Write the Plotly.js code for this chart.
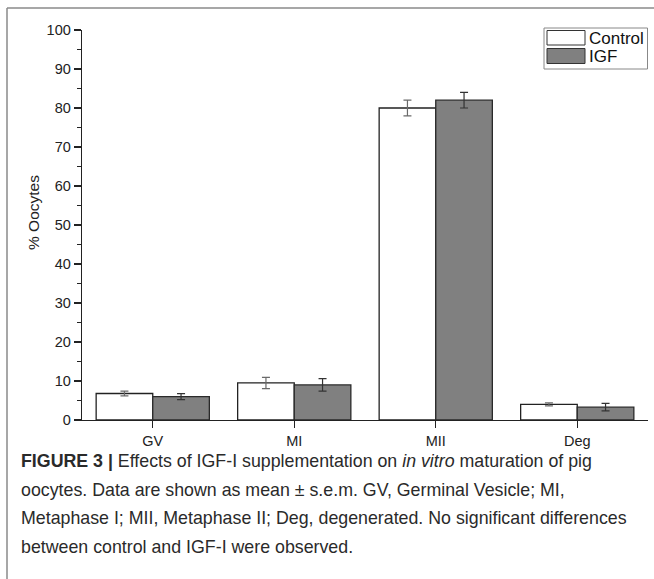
<!DOCTYPE html>
<html>
<head>
<meta charset="utf-8">
<script src="https://cdn.plot.ly/plotly-3.0.1.min.js"></script>
<style>
html,body{margin:0;padding:0;background:#fff;}
#chart{width:654px;height:579px;}
</style>
</head>
<body>
<div id="chart"></div>
<script>
const categories = ["GV", "MI", "MII", "Deg"];
const controlValues = [6.8, 9.5, 80.0, 4.0];
const controlErrors = [0.6, 1.45, 2.0, 0.4];
const igfValues = [6.0, 9.0, 82.0, 3.3];
const igfErrors = [0.75, 1.6, 2.0, 0.95];
const seriesNames = ["Control", "IGF"];
const yTickValues = [0, 10, 20, 30, 40, 50, 60, 70, 80, 90, 100];
const captionLines = [
  "<b>FIGURE 3 |</b> Effects of IGF-I supplementation on <i>in vitro</i> maturation of pig",
  "oocytes. Data are shown as mean \u00b1 s.e.m. GV, Germinal Vesicle; MI,",
  "Metaphase I; MII, Metaphase II; Deg, degenerated. No significant differences",
  "between control and IGF-I were observed."
];

const FONT = "Liberation Sans, Arial, Helvetica, sans-serif";

const traces = [
  {
    type: "bar", name: seriesNames[0], x: categories, y: controlValues,
    marker: {color: "#ffffff", line: {color: "#222222", width: 1.3}},
    error_y: {type: "data", array: controlErrors, visible: true, color: "#6a6a6a", thickness: 1.2, width: 4},
    showlegend: false, hoverinfo: "x+y"
  },
  {
    type: "bar", name: seriesNames[1], x: categories, y: igfValues,
    marker: {color: "#808080", line: {color: "#2a2a2a", width: 1.3}},
    error_y: {type: "data", array: igfErrors, visible: true, color: "#333333", thickness: 1.2, width: 4},
    showlegend: false, hoverinfo: "x+y"
  }
];

// pixel helpers (plot area: x 82..648, y 30..420)
const L = 82, R = 648, T = 30, B = 420;
const px = v => (v - L) / (R - L);
const py = v => (B - v) / (B - T);

const shapes = [
  {type: "line", xref: "paper", yref: "paper", x0: px(7), x1: px(660), y0: py(8), y1: py(8), line: {color: "#8a8a8a", width: 1.5}},
  {type: "line", xref: "paper", yref: "paper", x0: px(7), x1: px(7), y0: py(8), y1: py(585), line: {color: "#8a8a8a", width: 1.5}},
  {type: "rect", xref: "paper", yref: "paper", x0: px(544), x1: px(647.5), y0: py(28), y1: py(69), line: {color: "#888888", width: 1}, fillcolor: "#ffffff", layer: "above"},
  {type: "rect", xref: "paper", yref: "paper", x0: px(547), x1: px(585), y0: py(30.5), y1: py(45), line: {color: "#333333", width: 1}, fillcolor: "#ffffff", layer: "above"},
  {type: "rect", xref: "paper", yref: "paper", x0: px(547), x1: px(585), y0: py(48.5), y1: py(63.5), line: {color: "#333333", width: 1}, fillcolor: "#808080", layer: "above"}
];

const annotations = [
  {xref: "paper", yref: "paper", x: px(587), y: py(38), text: seriesNames[0], showarrow: false, xanchor: "left", yanchor: "middle", font: {family: FONT, size: 17, color: "#111"}},
  {xref: "paper", yref: "paper", x: px(587), y: py(56.5), text: seriesNames[1], showarrow: false, xanchor: "left", yanchor: "middle", font: {family: FONT, size: 17, color: "#111"}},
  {xref: "paper", yref: "paper", x: px(33), y: py(213), text: "% Oocytes", textangle: -90, showarrow: false, xanchor: "center", yanchor: "middle", font: {family: FONT, size: 15.5, color: "#222"}}
];
const captionY = [461, 490, 518, 547];
captionLines.forEach((t, i) => {
  annotations.push({xref: "paper", yref: "paper", x: px(19), y: py(captionY[i]), text: t, showarrow: false, xanchor: "left", yanchor: "middle", align: "left", font: {family: FONT, size: 17.8, color: "#2a2a2a"}});
});

const layout = {
  width: 654, height: 579,
  margin: {l: L, r: 654 - R, t: T, b: 579 - B, pad: 0},
  paper_bgcolor: "#ffffff", plot_bgcolor: "#ffffff",
  barmode: "group", bargap: 0.2, bargroupgap: 0,
  font: {family: FONT, color: "#222"},
  xaxis: {
    type: "category", range: [-0.5, 3.5], showgrid: false, zeroline: false,
    showline: true, linecolor: "#222", linewidth: 1.3,
    ticks: "outside", ticklen: 7, tickwidth: 1.3, tickcolor: "#222",
    tickfont: {family: FONT, size: 14.5, color: "#222"}, fixedrange: true
  },
  yaxis: {
    range: [0, 100], tickvals: yTickValues, showgrid: false, zeroline: false,
    showline: true, linecolor: "#222", linewidth: 1.3,
    ticks: "outside", ticklen: 7, tickwidth: 1.3, tickcolor: "#222",
    minor: {dtick: 5, ticks: "outside", ticklen: 4, tickwidth: 1.2, tickcolor: "#222", showgrid: false},
    tickfont: {family: FONT, size: 14.5, color: "#222"}, fixedrange: true
  },
  shapes: shapes,
  annotations: annotations,
  showlegend: false
};

Plotly.newPlot("chart", traces, layout, {displayModeBar: false, staticPlot: true});
</script>
</body>
</html>
